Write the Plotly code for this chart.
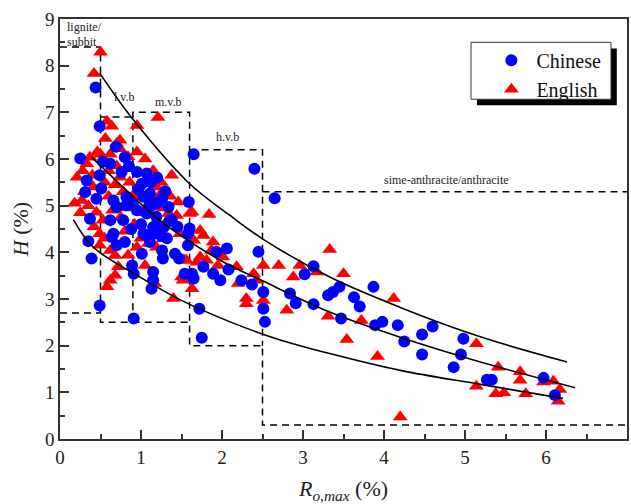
import plotly.graph_objects as go

FONT = "Liberation Serif"

# ---- data ----
chinese_x = [0.44,0.49,0.25,0.69,0.80,0.53,0.62,0.33,0.31,0.49,0.45,0.51,0.76,0.95,1.07,1.01,1.30,1.26,1.34,
             0.66,0.70,0.82,0.82,0.90,1.03,1.11,1.07,1.19,0.37,0.62,0.78,1.03,0.66,1.15,1.28,1.60,1.59,1.65,
             1.58,1.58,0.35,0.39,0.64,0.70,0.80,0.89,0.91,1.01,1.11,1.15,1.15,1.13,1.26,1.27,1.42,1.47,1.54,
             1.63,1.65,1.77,1.89,1.93,1.98,2.06,2.08,2.24,2.37,2.45,2.51,2.51,2.53,2.84,2.91,3.02,3.13,3.13,
             3.31,3.37,3.45,3.47,3.63,3.70,3.87,3.89,3.98,4.17,4.25,4.47,4.47,4.60,4.98,4.95,4.86,5.27,5.33,
             5.97,6.11,2.40,2.65,0.49,0.91,1.75,1.72,
             0.95,1.00,1.10,1.20,1.15,1.25,0.88,0.97,1.38,1.45,1.32,0.85,1.12,1.20,
             1.36,1.23,1.11]
chinese_y = [7.53,6.70,6.01,6.26,6.04,5.94,5.90,5.54,5.29,5.65,5.15,5.37,5.72,5.72,5.69,5.47,5.31,5.15,4.97,
             5.11,4.97,5.19,5.01,5.04,5.19,5.26,4.83,4.76,4.72,4.69,4.69,4.40,4.40,4.54,4.54,4.51,5.08,6.10,
             4.40,4.15,4.24,3.87,4.33,4.15,4.22,3.72,3.54,3.97,4.22,3.58,3.40,3.22,4.04,3.87,3.97,3.87,3.54,
             3.54,3.44,3.69,3.54,4.01,3.40,4.08,3.63,3.40,3.31,4.01,3.15,2.79,2.51,3.12,2.91,3.53,3.70,2.89,
             3.08,3.15,3.26,2.58,3.04,2.84,3.26,2.44,2.51,2.44,2.09,2.24,1.81,2.41,2.15,1.81,1.54,1.27,1.27,
             1.31,0.94,5.79,5.16,2.86,2.58,2.17,2.79,
             4.90,4.60,4.95,5.05,4.40,4.35,4.50,5.35,4.70,4.55,4.30,5.85,5.50,5.60,
             4.69,4.54,5.04]

english_x = [0.50,0.42,0.58,0.64,0.95,1.21,0.56,0.74,0.70,0.74,0.37,0.33,0.21,0.27,0.25,0.45,0.53,0.49,0.99,
             1.19,1.13,1.34,1.40,1.48,0.88,0.74,0.41,1.38,1.46,1.44,1.63,1.84,1.60,
             0.30,0.40,0.50,0.55,0.60,0.65,0.70,0.78,0.80,0.86,0.92,0.96,1.02,1.06,1.10,1.16,1.22,1.27,1.31,
             1.36,0.46,0.62,0.84,0.42,0.35,0.18,0.28,0.60,0.68,0.90,0.95,1.05,1.15,1.25,0.75,0.55,1.00,0.80,
             0.49,0.62,0.68,0.58,0.62,0.68,0.72,0.84,0.95,1.05,1.09,1.19,1.40,1.50,1.54,1.63,1.65,1.73,1.81,
             1.89,1.95,1.77,1.28,1.17,1.52,1.56,1.69,1.73,2.01,1.87,
             2.18,2.20,2.30,2.30,2.39,2.51,2.51,2.70,2.80,2.88,2.96,3.17,2.43,
             3.33,3.50,3.31,3.54,3.72,4.12,3.92,4.20,5.14,5.14,5.41,5.38,5.48,5.68,5.68,5.75,5.97,6.09,6.17,6.15]
english_y = [8.29,7.83,6.81,6.70,6.72,6.89,6.44,6.40,6.33,6.22,6.04,5.90,5.61,5.11,4.85,4.86,4.69,4.40,5.19,
             5.40,4.97,4.83,4.61,4.40,5.79,5.61,5.40,5.65,5.08,4.79,4.86,4.81,4.83,
             5.30,5.65,6.10,5.50,5.20,4.90,5.85,5.30,4.95,5.50,4.60,5.35,4.85,5.50,5.05,4.60,5.20,4.95,4.65,
             5.20,6.15,6.10,6.05,4.55,5.00,5.05,5.75,5.75,5.45,5.20,6.15,6.00,5.75,5.50,4.75,4.30,4.30,4.45,
             4.15,4.04,3.93,3.26,3.40,3.51,3.69,3.94,4.11,3.72,4.19,4.11,3.01,3.47,3.83,3.22,4.26,3.90,3.83,
             4.22,3.72,4.36,4.29,3.33,3.40,3.83,3.79,4.47,3.90,4.04,
             3.69,3.33,3.01,2.90,3.54,3.72,2.97,3.72,2.76,3.47,3.72,3.58,3.40,
             4.06,3.54,2.63,2.13,2.54,3.01,1.77,0.47,2.04,1.13,1.54,0.97,0.99,1.44,1.26,0.97,1.22,1.24,1.06,0.81]

# fitted curves
upper_x = [0.49, 0.90, 1.60, 2.10, 2.50, 3.33, 4.20, 5.19, 6.26]
upper_y = [7.84, 6.85, 5.47, 4.79, 4.29, 3.47, 2.82, 2.19, 1.65]
middle_x = [0.39, 0.905, 1.235, 2.00, 2.50, 3.33, 4.20, 5.19, 6.36]
middle_y = [6.04, 5.19, 4.68, 3.81, 3.39, 2.72, 2.18, 1.65, 1.10]
lower_x = [0.165, 0.41, 0.988, 1.50, 2.10, 2.67, 3.33, 4.20, 5.19, 6.21]
lower_y = [4.70, 4.11, 3.47, 2.97, 2.51, 2.15, 1.83, 1.47, 1.17, 0.87]

# coal rank region boundaries (dashed)
bound_x = [0, 0.5, 0.5, 1.6, 1.6, 2.5, 2.5, 7, None,
           0, 0.5, None,
           0.5, 0.9, None,
           0.9, 0.9, 1.6, 1.6, None,
           1.6, 2.5, 2.5, None,
           2.5, 7]
bound_y = [8.4, 8.4, 2.5, 2.5, 2.0, 2.0, 0.3, 0.3, None,
           2.7, 2.7, None,
           6.9, 6.9, None,
           2.5, 7.0, 7.0, 2.5, None,
           6.2, 6.2, 2.0, None,
           5.3, 5.3]

rank_labels = ["lignite/", "subbit", "l.v.b", "m.v.b", "h.v.b", "sime-anthracite/anthracite"]
rank_label_x = [0.06, 0.06, 0.80, 1.34, 2.07, 4.77]
rank_label_y = [8.82, 8.50, 7.33, 7.22, 6.48, 5.54]
rank_label_anchor = ["left", "left", "center", "center", "center", "center"]

fig = go.Figure()

fig.add_trace(go.Scatter(x=bound_x, y=bound_y, mode="lines", showlegend=False, hoverinfo="skip",
                         line=dict(color="black", width=1.5, dash="7px,5px")))

fig.add_trace(go.Scatter(x=english_x, y=english_y, mode="markers", name="English", legendrank=2,
                         marker=dict(symbol="triangle-up", size=13, color="#ff0000", line=dict(width=0))))
fig.add_trace(go.Scatter(x=chinese_x, y=chinese_y, mode="markers", name="Chinese", legendrank=1,
                         marker=dict(symbol="circle", size=12, color="#0000ff", line=dict(width=0))))

for cx_, cy_ in [(upper_x, upper_y), (middle_x, middle_y), (lower_x, lower_y)]:
    fig.add_trace(go.Scatter(x=cx_, y=cy_, mode="lines", showlegend=False, hoverinfo="skip",
                             line=dict(color="black", width=1.6, shape="spline", smoothing=1.0)))

for t, x, y, a in zip(rank_labels, rank_label_x, rank_label_y, rank_label_anchor):
    fig.add_annotation(x=x, y=y, text=t, showarrow=False, xanchor=a, yanchor="middle",
                       font=dict(family=FONT, size=12, color="#222"))

# legend frame with shadow (paper coordinates)
fig.add_shape(type="rect", xref="paper", yref="paper", x0=0.7354, x1=0.982, y0=0.7945, y1=0.930,
              fillcolor="black", line=dict(width=0), layer="above")
fig.add_shape(type="rect", xref="paper", yref="paper", x0=0.7249, x1=0.9718, y0=0.8089, y1=0.9445,
              fillcolor="white", line=dict(color="#333", width=1), layer="above")

axis_common = dict(showgrid=False, zeroline=False, showline=True, linecolor="#333", linewidth=1.5,
                   mirror=True, ticks="inside", ticklen=9, tickwidth=1.5, tickcolor="#333",
                   tickfont=dict(family=FONT, size=19, color="#222"))

fig.update_xaxes(range=[0, 7], dtick=1, tick0=0,
                 minor=dict(ticks="inside", ticklen=5, tickwidth=1.5, dtick=0.5, tickcolor="#333"),
                 title=dict(text="<i>R</i><sub><i>o,max</i></sub> (%)", font=dict(family=FONT, size=22, color="#222"),
                            standoff=18),
                 **axis_common)
fig.update_yaxes(range=[0, 9], dtick=1, tick0=0,
                 minor=dict(ticks="inside", ticklen=5, tickwidth=1.5, dtick=0.5, tickcolor="#333"),
                 title=dict(text="<i>H</i> (%)", font=dict(family=FONT, size=22, color="#222"), standoff=10),
                 **axis_common)

fig.update_layout(
    width=631, height=504,
    margin=dict(l=60, r=4, t=19, b=65, autoexpand=False),
    paper_bgcolor="white", plot_bgcolor="white",
    showlegend=True,
    legend=dict(x=0.752, y=0.948, xanchor="left", yanchor="top", bgcolor="rgba(0,0,0,0)",
                borderwidth=0, font=dict(family=FONT, size=20, color="#111"), itemwidth=40,
                tracegroupgap=0),
)

fig.write_html("out.html")
